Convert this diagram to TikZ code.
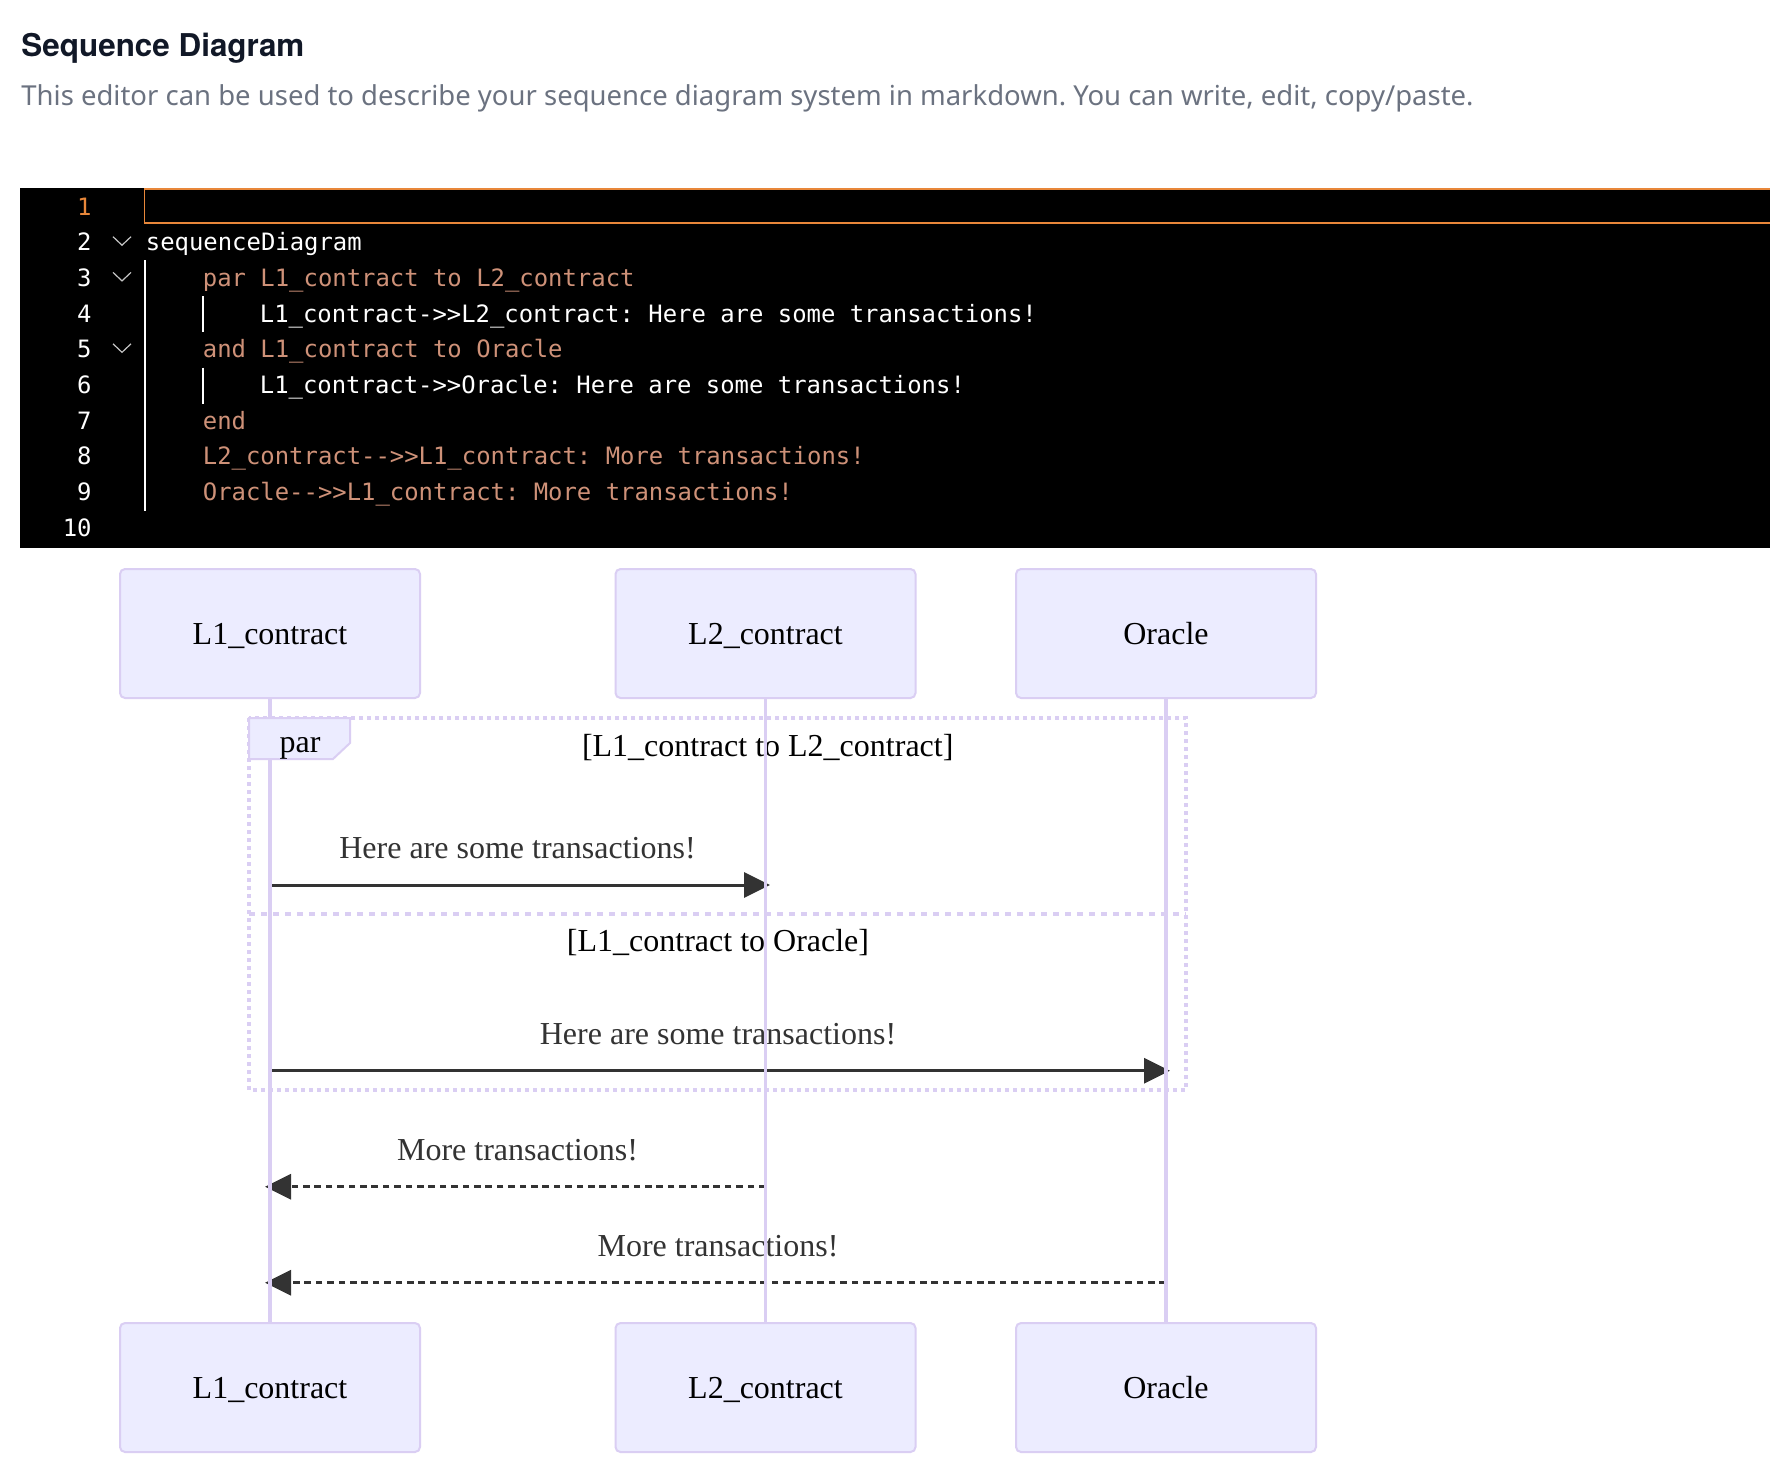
\documentclass[tikz,border=0pt]{standalone}
\usepackage{fontspec}
\setmainfont{Liberation Serif}
\newfontfamily\uifont{Noto Sans}
\newfontfamily\titlefont{TeX Gyre Heros}
\newfontfamily\codefont{DejaVu Sans Mono}
\usetikzlibrary{arrows.meta}
\frenchspacing

\definecolor{actorfill}{HTML}{ECECFF}
\definecolor{actorline}{HTML}{DACEF3}
\definecolor{msgcol}{HTML}{333333}
\definecolor{titlecol}{HTML}{111827}
\definecolor{subcol}{HTML}{6B7280}
\definecolor{codetan}{HTML}{CE9178}
\definecolor{codeorange}{HTML}{E8873A}
\definecolor{foldcol}{HTML}{C5C5C5}

\tikzset{
  actor/.style={draw=actorline, fill=actorfill, line width=1pt, rounded corners=2.5pt,
    minimum width=150pt, minimum height=64.5pt, text height=10.5pt, text depth=0pt,
    inner sep=0pt, font=\fontsize{16}{19}\selectfont},
  lifeline/.style={draw=actorline, line width=1.75pt},
  msg/.style={draw=msgcol, line width=1.5pt, -{Triangle[length=13pt,width=12.5pt]}},
  reply/.style={msg, dash pattern=on 3.3pt off 2.4pt},
  msglabel/.style={anchor=base, inner sep=0pt, text=msgcol, font=\fontsize{16}{19}\selectfont},
  looplabel/.style={anchor=base, inner sep=0pt, text=black, font=\fontsize{16}{19}\selectfont},
  loopline/.style={draw=actorline, line width=1.8pt, dash pattern=on 2pt off 2pt},
  codeline/.style={anchor=base west, inner sep=0pt, font=\codefont\fontsize{11.95}{14}\selectfont},
  lineno/.style={anchor=base east, inner sep=0pt, text=white, font=\codefont\fontsize{11.95}{14}\selectfont},
  fold/.style={draw=foldcol, line width=0.6pt},
}

\begin{document}
\begin{tikzpicture}[x=0.5pt, y=-0.5pt]
\fill[white] (0,0) rectangle (1770,1468);
\useasboundingbox (0,0) rectangle (1770,1468);

% heading
\node [anchor=base west, inner sep=0pt, text=titlecol, font=\titlefont\bfseries\fontsize{15.7}{19}\selectfont] (title) at (21,56) {Sequence Diagram};
\node [anchor=base west, inner sep=0pt, text=subcol, font=\uifont\fontsize{13.74}{17}\selectfont] (subtitle) at (21,105) {This editor can be used to describe your sequence diagram system in markdown. You can write, edit, copy/paste.};

% editor
\fill [black] (20,188) rectangle (1770,547.7);
\draw [codeorange, line width=0.9pt] (144.5,188.8) rectangle (1780,223.3);
\draw [white, line width=1pt] (145,260) -- (145,511);
\draw [white, line width=1pt] (202.7,296) -- (202.7,332);
\draw [white, line width=1pt] (202.7,367.5) -- (202.7,403.5);

\node [lineno, text=codeorange] (n1) at (92,215) {1};
\node [lineno] (n2) at (92,250.7) {2};
\node [lineno] (n3) at (92,286.4) {3};
\node [lineno] (n4) at (92,322.1) {4};
\node [lineno] (n5) at (92,357.8) {5};
\node [lineno] (n6) at (92,393.5) {6};
\node [lineno] (n7) at (92,429.2) {7};
\node [lineno] (n8) at (92,464.9) {8};
\node [lineno] (n9) at (92,500.6) {9};
\node [lineno] (n10) at (92,536.3) {10};

\draw [fold] (113,236.7) -- (122,245.2) -- (131,236.7);
\draw [fold] (113,272.4) -- (122,280.9) -- (131,272.4);
\draw [fold] (113,343.8) -- (122,352.3) -- (131,343.8);

\node [codeline, text=white] (c2) at (145.5,250.7) {sequenceDiagram};
\node [codeline, text=codetan] (c3) at (202.5,286.4) {par L1\_contract to L2\_contract};
\node [codeline, text=white] (c4) at (259.5,322.1) {L1\_contract-{}>{}>L2\_contract: Here are some transactions!};
\node [codeline, text=codetan] (c5) at (202.5,357.8) {and L1\_contract to Oracle};
\node [codeline, text=white] (c6) at (259.5,393.5) {L1\_contract-{}>{}>Oracle: Here are some transactions!};
\node [codeline, text=codetan] (c7) at (202.5,429.2) {end};
\node [codeline, text=codetan] (c8) at (202.5,464.9) {L2\_contract-{}-{}>{}>L1\_contract: More transactions!};
\node [codeline, text=codetan] (c9) at (202.5,500.6) {Oracle-{}-{}>{}>L1\_contract: More transactions!};

% actors
\node [actor] (l1top) at (270,633.5) {L1\_contract};
\node [actor] (l2top) at (765.5,633.5) {L2\_contract};
\node [actor] (ortop) at (1166,633.5) {Oracle};
\node [actor] (l1bot) at (270,1387.5) {L1\_contract};
\node [actor] (l2bot) at (765.5,1387.5) {L2\_contract};
\node [actor] (orbot) at (1166,1387.5) {Oracle};

% par frame
\draw [loopline] (249,718) rectangle (1186,1090);
\draw [loopline, dash pattern=on 3pt off 3pt] (249,914) -- (1186,914);
\node [looplabel] (cond1) at (767.7,756) {[L1\_contract to L2\_contract]};
\node [looplabel] (cond2) at (718,951) {[L1\_contract to Oracle]};

% messages
\coordinate (m1s) at (270,885);
\coordinate (m1e) at (770,885);
\coordinate (m2s) at (270,1070.7);
\coordinate (m2e) at (1170,1070.7);
\coordinate (m3s) at (765.5,1186.7);
\coordinate (m3e) at (265,1186.7);
\coordinate (m4s) at (1166,1282.7);
\coordinate (m4e) at (265,1282.7);
\node [msglabel] (t1) at (517.5,858) {Here are some transactions!};
\node [msglabel] (t2) at (718,1044.5) {Here are some transactions!};
\node [msglabel] (t3) at (517.5,1160.5) {More transactions!};
\node [msglabel] (t4) at (718,1256.5) {More transactions!};
\draw [msg] (m1s) -- (m1e);
\draw [msg] (m2s) -- (m2e);
\draw [reply] (m3s) -- (m3e);
\draw [reply] (m4s) -- (m4e);

% lifelines
\draw [lifeline] (l1top.south) -- (l1bot.north);
\draw [lifeline] (l2top.south) -- (l2bot.north);
\draw [lifeline] (ortop.south) -- (orbot.north);

% par tag
\draw [draw=actorline, fill=actorfill, line width=1pt] (249,718) -- (350,718) -- (350,743) -- (333,759) -- (249,759) -- cycle;
\node [looplabel] (partag) at (300,752.5) {par};
\end{tikzpicture}
\end{document}
